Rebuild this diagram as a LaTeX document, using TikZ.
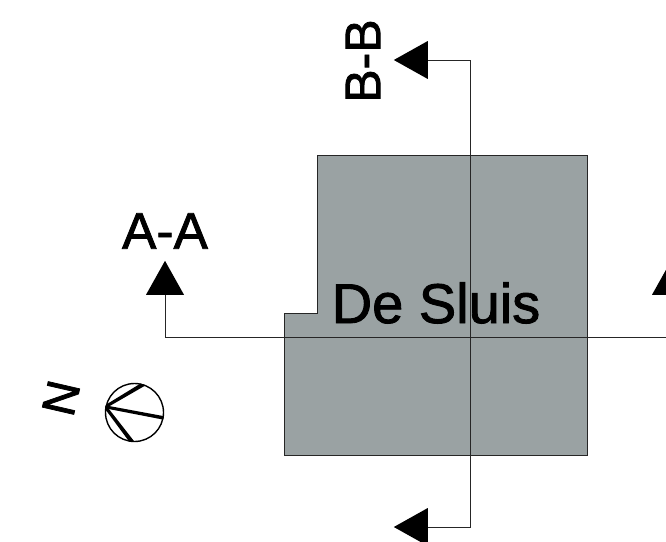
\documentclass[tikz,border=0pt]{standalone}
\usepackage{fontspec}
\setmainfont{Liberation Sans}
\newfontfamily\heavy[FakeBold=1.6]{Liberation Sans}
\usetikzlibrary{shapes.geometric}
\definecolor{slsgray}{HTML}{9AA2A3}

\begin{document}
\begin{tikzpicture}[x=1pt,y=-1pt,
	markstyle/.style={isosceles triangle, isosceles triangle stretches, fill=black,
	inner sep=0pt, minimum width=38pt, minimum height=34pt, anchor=lower side},
	linestyle/.style={draw=black!85, line width=0.9pt},
	lblstyle/.style={inner sep=0pt, text=black},
	wedgestyle/.style={fill=black, draw=black, line width=3pt, line join=round}
	]
	\clip (0,0) rectangle (666,541);
	\fill[white] (0,0) rectangle (666,541);

	% building
	\draw[fill=slsgray, draw=black!85, line width=0.8pt] (317.5,155) -- (587,155) -- (587,455)
		-- (284.5,455) -- (284.5,313) -- (317.5,313) -- cycle;
	\node[lblstyle, font=\heavy\fontsize{56}{56}\selectfont] (sluis) at (436,303) {De Sluis};

	% section marks
	\node[markstyle, shape border rotate=90] (markA) at (165,295) {};
	\node[markstyle, shape border rotate=90] (markC) at (671,295) {};
	\node[markstyle, shape border rotate=180] (markB) at (428,60) {};
	\node[markstyle, shape border rotate=180] (markD) at (428,527) {};
	\coordinate (cornerA) at (165,337);
	\coordinate (cornerC) at (671,337);
	\coordinate (cornerB) at (470,60);
	\coordinate (cornerD) at (470,527);

	\draw[linestyle] (markA.lower side) -- (cornerA) -- (cornerC) -- (markC.lower side);
	\draw[linestyle] (markB.lower side) -- (cornerB) -- (cornerD) -- (markD.lower side);

	\node[lblstyle, font=\heavy\fontsize{51.5}{52}\selectfont] (lblA) at (165,231) {A-A};
	\node[lblstyle, font=\heavy\fontsize{50}{50}\selectfont, rotate=90] (lblB) at (363,61) {B-B};

	% north arrow
	\node[circle, draw=black, line width=1.4pt, fill=white, minimum size=58pt, inner sep=0pt] (compass) at (134.5,412.5) {};
	\begin{scope}
		\clip (compass.center) circle (29.5pt);
		\draw[wedgestyle] (compass.169) -- (compass.74) -- (compass.71) -- cycle;
		\draw[wedgestyle] (compass.169) -- (compass.-10) -- (compass.-11) -- cycle;
		\draw[wedgestyle] (compass.169) -- (compass.-93) -- (compass.-96) -- cycle;
	\end{scope}
	\node[lblstyle, font=\heavy\fontsize{47}{47}\selectfont, rotate=77] (lblN) at (61,398) {N};
\end{tikzpicture}
\end{document}
